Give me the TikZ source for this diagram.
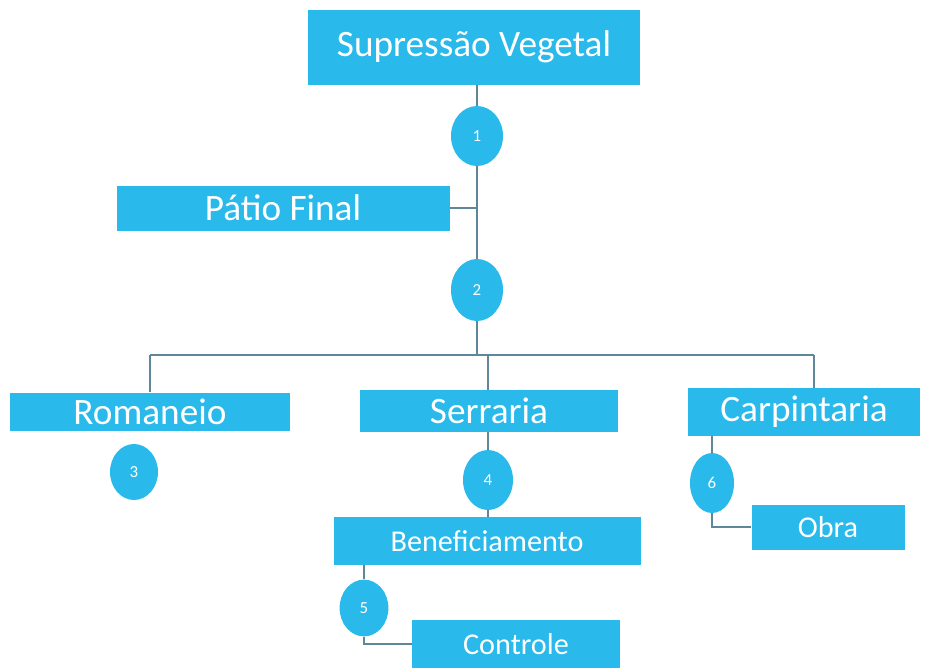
\documentclass[tikz,border=0pt]{standalone}
\usepackage{fontspec}
\setmainfont{Carlito}
\usetikzlibrary{shapes.geometric}
\definecolor{boxblue}{RGB}{41,185,235}
\definecolor{linkgray}{RGB}{95,135,155}

\begin{document}
\begin{tikzpicture}[
        stagebox/.style={fill=boxblue, text=white, inner sep=0pt},
        bigtext/.style={font=\fontsize{26.5}{30}\selectfont},
        smalltext/.style={font=\fontsize{21.5}{25}\selectfont},
        stepmark/.style={ellipse, fill=boxblue, text=white, inner sep=0pt,
            font=\fontsize{12}{13}\selectfont},
        link/.style={draw=linkgray, line width=0.9pt}
    ]
        \useasboundingbox (0,0) rectangle (23.225,-16.7);
        % caixas
        \node[stagebox, bigtext, minimum width=8.3cm, minimum height=1.875cm] (sup) at (11.85,-1.175) {Supressão Vegetal};
        \node[stagebox, bigtext, minimum width=8.325cm, minimum height=1.125cm] (patio) at (7.075,-5.2) {Pátio Final};
        \node[stagebox, bigtext, minimum width=7cm, minimum height=0.95cm] (rom) at (3.75,-10.29) {Romaneio};
        \node[stagebox, bigtext, minimum width=6.45cm, minimum height=1.05cm] (serr) at (12.225,-10.275) {Serraria};
        \node[stagebox, bigtext, minimum width=5.8cm, minimum height=1.2cm] (carp) at (20.1,-10.3) {Carpintaria};
        \node[stagebox, smalltext, minimum width=7.675cm, minimum height=1.2cm] (bene) at (12.175,-13.525) {Beneficiamento};
        \node[stagebox, smalltext, minimum width=5.2cm, minimum height=1.2cm] (ctrl) at (12.9,-16.1) {Controle};
        \node[stagebox, smalltext, minimum width=3.825cm, minimum height=1.125cm] (obra) at (20.7,-13.175) {Obra};
        % etapas
        \node[stepmark, minimum width=1.3cm, minimum height=1.5cm] (e1) at (11.925,-3.4) {1};
        \node[stepmark, minimum width=1.3cm, minimum height=1.55cm] (e2) at (11.925,-7.25) {2};
        \node[stepmark, minimum width=1.2cm, minimum height=1.4cm] (e3) at (3.35,-11.8) {3};
        \node[stepmark, minimum width=1.25cm, minimum height=1.5cm] (e4) at (12.2,-12.0) {4};
        \node[stepmark, minimum width=1.22cm, minimum height=1.42cm] (e5) at (9.1,-15.2) {5};
        \node[stepmark, minimum width=1.1cm, minimum height=1.5cm] (e6) at (17.8,-12.075) {6};
        % ligacoes
        \coordinate (barL) at (3.75,-8.875);
        \coordinate (barR) at (20.35,-8.875);
        \draw[link] (e1.north |- sup.south) -- (e1.north);
        \draw[link] (e1.south) -- (e2.north);
        \draw[link] (patio.east) -- (patio.east -| e1.south);
        \draw[link] (e2.south) -- (e2.south |- barL);
        \draw[link] (barL) -- (barR);
        \draw[link] (barL) -- (rom.north);
        \draw[link] (e4.north |- barL) -- (e4.north |- serr.north);
        \draw[link] (barR) -- (barR |- carp.north);
        \draw[link] (e4.north |- serr.south) -- (e4.north);
        \draw[link] (e4.south) -- (bene.north -| e4.south);
        \draw[link] (e5.north |- bene.south) -- (e5.north);
        \draw[link] (e5.south) |- (ctrl.west);
        \draw[link] (e6.north |- carp.south) -- (e6.north);
        \draw[link] (e6.south) |- (obra.west);
\end{tikzpicture}
\end{document}
